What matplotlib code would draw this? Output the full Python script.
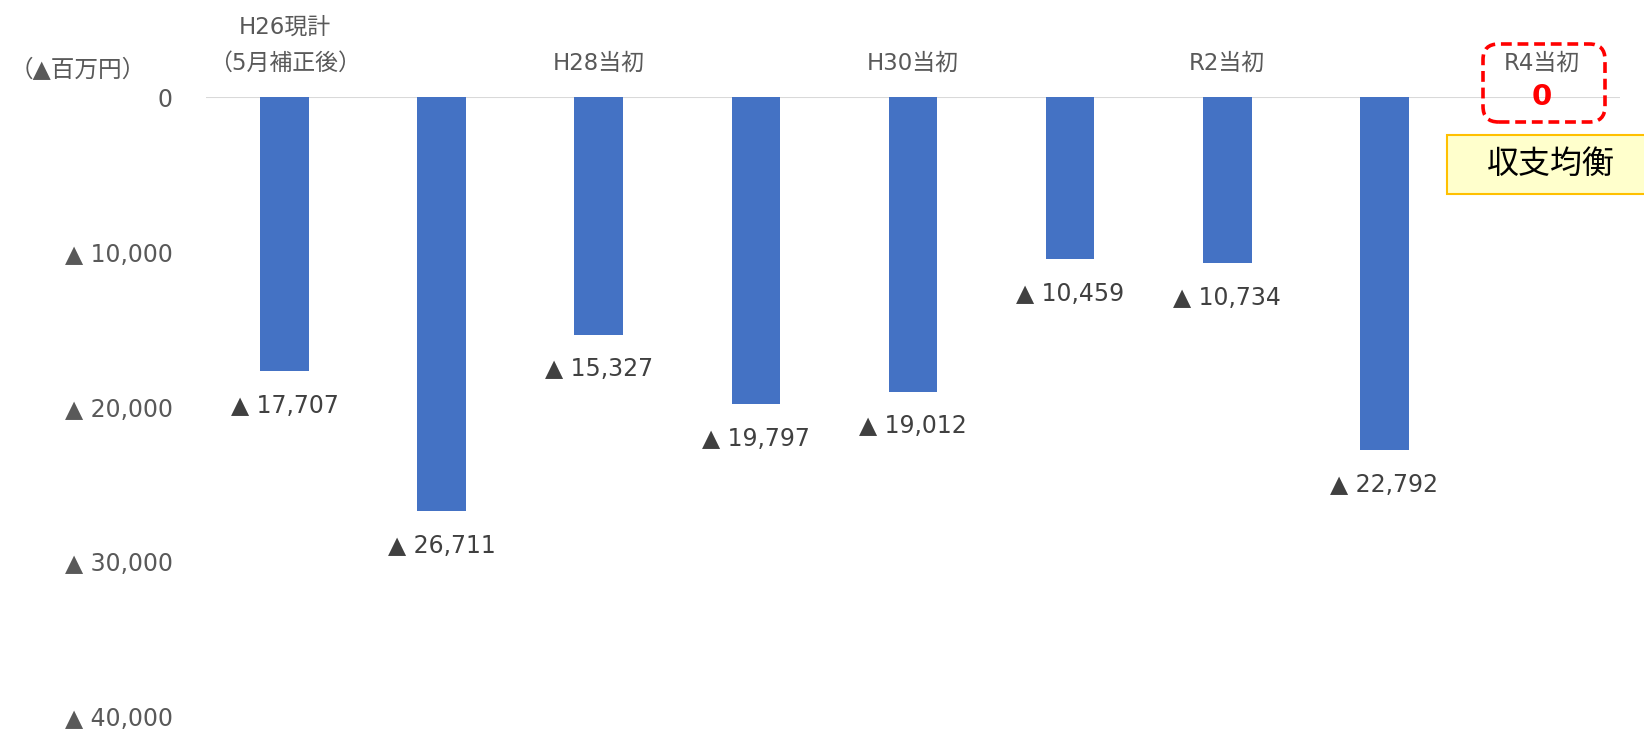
import matplotlib
matplotlib.use('Agg')
import matplotlib.pyplot as plt
from matplotlib.patches import FancyBboxPatch, Rectangle
from matplotlib.ticker import FuncFormatter

plt.rcParams['font.family'] = ['DejaVu Sans', 'Noto Sans CJK JP']

# data (▲百万円, negative = deficit)
categories = ['H26現計\n（5月補正後）', 'H27当初', 'H28当初', 'H29当初', 'H30当初',
              'R1当初', 'R2当初', 'R3当初', 'R4当初']
balance = [-17707, -26711, -15327, -19797, -19012, -10459, -10734, -22792, 0]
y_ticks = [0, -10000, -20000, -30000, -40000]

bar_color = '#4472C4'
gray = '#595959'

fig = plt.figure(figsize=(16.44, 7.31), dpi=100)
ax = fig.add_axes([0.1253, 0.0192, 0.8601, 0.848])

x = list(range(len(categories)))
ax.bar(x, balance, width=0.31, color=bar_color, zorder=2)
ax.axhline(0, color='#D9D9D9', lw=1.5, zorder=1)

ax.set_xlim(-0.5, len(categories) - 0.5)
ax.set_ylim(-40000, 0)

# category labels on top, every other one shown
ax.xaxis.tick_top()
ax.set_xticks(x[::2])
ax.set_xticklabels(categories[::2], fontsize=16.5, color=gray, linespacing=1.75)
ax.tick_params(axis='x', length=0, pad=16)

ax.set_yticks(y_ticks)
ax.yaxis.set_major_formatter(FuncFormatter(lambda v, p: '0' if v == 0 else '▲ {:,}'.format(int(-v))))
ax.tick_params(axis='y', length=0, pad=24, labelsize=17, labelcolor=gray)

for s in ax.spines.values():
    s.set_visible(False)

# data labels
for xi, v in zip(x, balance):
    if v == 0:
        ax.annotate('0', (xi, 0), xytext=(0, 0), textcoords='offset points',
                    ha='center', va='center', fontsize=21, fontweight='bold', color='#FF0000',
                    zorder=5)
    else:
        ax.annotate('▲ {:,}'.format(-v), (xi, v), xytext=(0, -25), textcoords='offset points',
                    ha='center', va='center', fontsize=17, color='#404040')

fig.text(10 / 1644, 1 - 70 / 731, '（▲百万円）', fontsize=17, color=gray, ha='left', va='center')

# red dashed rounded frame around R4
W, H = 1644.0, 731.0
frame = FancyBboxPatch((1483 / W, 1 - 122 / H), 122 / W, 78 / H,
                       boxstyle='round,pad=0,rounding_size=0.0095',
                       transform=fig.transFigure, fill=False, edgecolor='#FF0000',
                       lw=2.6, linestyle=(0, (3, 1.6)), mutation_aspect=W / H)
fig.add_artist(frame)

# yellow note box
note = Rectangle((1447 / W, 1 - 194 / H), 200 / W, 59 / H, transform=fig.transFigure,
                 facecolor='#FFFFCC', edgecolor='#FFC000', lw=1.5)
fig.add_artist(note)
fig.text(1551 / W, 1 - 164 / H, '収支均衡', fontsize=23, color='black', ha='center', va='center')

fig.savefig('out.png', dpi=100)
